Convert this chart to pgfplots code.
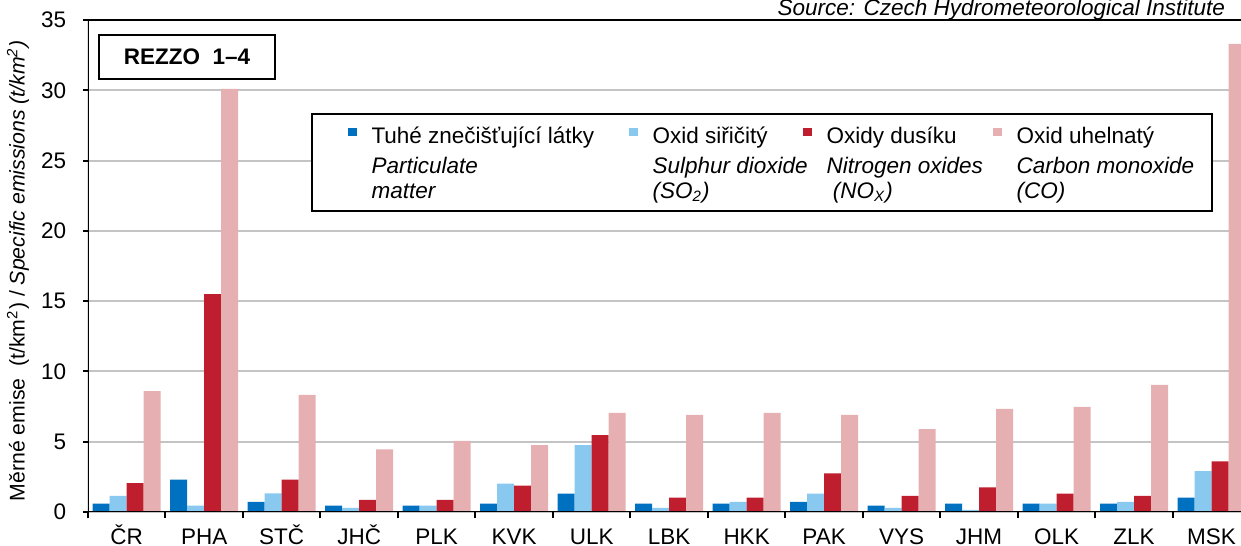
\documentclass[border=0pt]{standalone}
\usepackage{fontspec}
\setmainfont{Liberation Sans}
\usepackage{pgfplots}
\pgfplotsset{compat=1.18}
\definecolor{cTzl}{HTML}{0070C0}
\definecolor{cSO}{HTML}{89C9F0}
\definecolor{cNO}{HTML}{BE1E2D}
\definecolor{cCO}{HTML}{E6AFB1}
\definecolor{gridc}{HTML}{C4C4C4}

\newcommand{\lentry}[4]{\parbox[t]{#1}{\mbox{#2}\\[2pt]\mbox{\textit{#3}}\\\mbox{\textit{#4}}}}

\begin{document}
\fontsize{9}{10}\selectfont
\begin{tikzpicture}
\useasboundingbox (-35.2pt,-13.6pt) rectangle (461.2pt,204.8pt);
\begin{axis}[
  at={(0,0)}, anchor=south west,
  scale only axis, width=461.2pt, height=196.8pt,
  ybar=0pt, bar width=6.8pt,
  xmin=-0.5, xmax=14.38, ymin=0, ymax=35,
  xtick={0,...,14},
  xticklabels={ČR,PHA,STČ,JHČ,PLK,KVK,ULK,LBK,HKK,PAK,VYS,JHM,OLK,ZLK,MSK},
  minor xtick={-0.5,0.5,...,13.5},
  ytick={0,5,...,35},
  xtick pos=bottom, ytick pos=left,
  tick align=outside,
  major x tick style={draw=none},
  minor tick length=2.6pt, major tick length=2pt,
  tick style={black,line width=0.8pt},
  ymajorgrids, grid style={gridc,line width=0.8pt},
  axis line style={draw=none},
  /pgf/number format/assume math mode=true,
  ticklabel style={font=\fontsize{9}{10}\selectfont},
  yticklabel style={xshift=-3.5pt},
  xticklabel style={anchor=base, yshift=-11pt},
  ylabel={Měrné emise\ \ (t/km\textsuperscript{2}) / \textit{Specific emissions (t/km\textsuperscript{2})}},
  ylabel style={at={(axis description cs:-0.0607,0.49)},anchor=center,font=\fontsize{8.5}{10}\selectfont},
  legend columns=4,
  legend cell align=left,
  legend image code/.code={\fill[#1] (0pt,0.2pt) rectangle (3.7pt,3.7pt);},
  legend style={
    at={(rel axis cs:0.1943,0.809)}, anchor=north west,
    draw=none, fill=none,
    inner xsep=14pt, inner ysep=4pt,
    nodes={inner sep=1pt, font=\fontsize{9}{10}\selectfont},
    /tikz/every odd column/.append style={column sep=4.9pt},
    /tikz/every even column/.append style={column sep=3pt},
  },
]
\addplot[fill=cTzl,draw=none] coordinates {
 (0,0.6)(1,2.3)(2,0.72)(3,0.45)(4,0.45)(5,0.6)(6,1.3)(7,0.6)(8,0.6)(9,0.72)(10,0.45)(11,0.6)(12,0.6)(13,0.6)(14,1.02)};
\addplot[fill=cSO,draw=none] coordinates {
 (0,1.15)(1,0.45)(2,1.32)(3,0.3)(4,0.45)(5,2.02)(6,4.75)(7,0.3)(8,0.72)(9,1.3)(10,0.3)(11,0.15)(12,0.6)(13,0.72)(14,2.9)};
\addplot[fill=cNO,draw=none] coordinates {
 (0,2.05)(1,15.5)(2,2.3)(3,0.87)(4,0.87)(5,1.87)(6,5.47)(7,1.02)(8,1.02)(9,2.75)(10,1.15)(11,1.75)(12,1.3)(13,1.15)(14,3.6)};
\addplot[fill=cCO,draw=none] coordinates {
 (0,8.6)(1,30.1)(2,8.33)(3,4.45)(4,5.05)(5,4.75)(6,7.05)(7,6.9)(8,7.05)(9,6.9)(10,5.9)(11,7.33)(12,7.47)(13,9.05)(14,33.3)};
\legend{
  \lentry{98.8pt}{Tuhé znečišťující látky}{Particulate}{matter},
  \lentry{56pt}{Oxid siřičitý}{Sulphur dioxide}{(SO\textsubscript{2})},
  \lentry{62.4pt}{Oxidy dusíku}{Nitrogen oxides}{\ (NO\textsubscript{X})},
  \lentry{63pt}{Oxid uhelnatý}{Carbon monoxide}{(CO)}}
\draw[black,line width=1pt] (rel axis cs:0,0) -- (rel axis cs:1,0);
\draw[black,line width=1pt] (rel axis cs:0,0) -- (rel axis cs:0,1);
\draw[black,line width=1pt] (rel axis cs:0,1) -- (rel axis cs:1,1);
\draw[black,line width=1pt,fill=white] (rel axis cs:0.1943,0.809) rectangle (rel axis cs:0.9748,0.6118);
\node[draw=black,line width=1pt,fill=white,minimum width=70.4pt,minimum height=17.6pt,
  font=\fontsize{9}{10}\selectfont\bfseries] at (rel axis cs:0.0859,0.9248) {REZZO\ \ 1–4};
\end{axis}
\node[anchor=base east,font=\fontsize{9}{10}\selectfont\itshape] at (458pt,198.6pt) {Source: Czech Hydrometeorological Institute};
\end{tikzpicture}
\end{document}
